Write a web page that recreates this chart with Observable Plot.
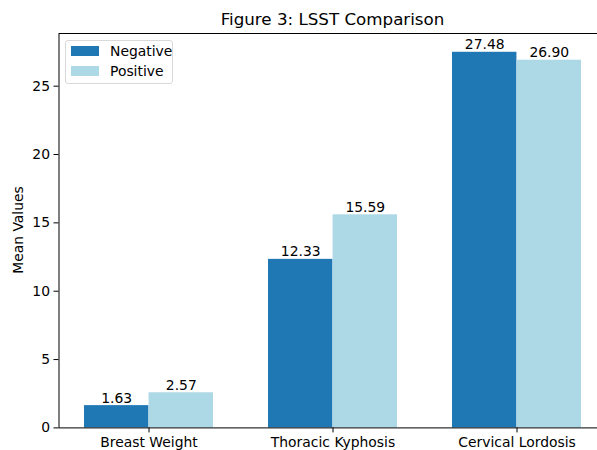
<!DOCTYPE html>
<html>
<head>
<meta charset="utf-8">
<script src="https://cdn.jsdelivr.net/npm/d3@7"></script>
<script src="https://cdn.jsdelivr.net/npm/@observablehq/plot@0.6"></script>
<style>
  html, body { margin: 0; padding: 0; background: #fff; overflow: hidden; }
  #wrap { position: relative; width: 597px; height: 450px; overflow: hidden; font-family: "DejaVu Sans", sans-serif; color: #000; }
  #title { position: absolute; left: 58.5px; width: 548px; top: 9px; text-align: center; font-size: 16.7px; line-height: 20px; }
  #ylabel { position: absolute; left: 18px; top: 230px; transform: translate(-50%, -50%) rotate(-90deg); font-size: 13.9px; white-space: nowrap; }
  #legend { position: absolute; left: 65px; top: 40px; width: 108px; height: 44px; border: 1px solid #d9d9d9; border-radius: 3px; background: rgba(255,255,255,0.8); box-sizing: border-box; font-size: 13.9px; }
  .item { position: absolute; left: 5px; display: flex; align-items: center; }
  .sw { width: 28px; height: 10px; margin-right: 11px; }
  #chart svg { position: absolute; left: 0; top: 0; max-width: none !important; width: 610px !important; height: 450px !important; }
</style>
</head>
<body>
<div id="wrap">
  <div id="chart"></div>
  <div id="title">Figure 3: LSST Comparison</div>
  <div id="ylabel">Mean Values</div>
  <div id="legend"></div>
</div>
<script>
const categories = ["Breast Weight", "Thoracic Kyphosis", "Cervical Lordosis"];
const groups = ["Negative", "Positive"];
const negative = [1.63, 12.33, 27.48];
const positive = [2.57, 15.59, 26.90];
const colors = ["#1f77b4", "#add8e6"];
const yTicks = [0, 5, 10, 15, 20, 25];

const negData = categories.map((c, i) => ({category: c, group: groups[0], value: negative[i]}));
const posData = categories.map((c, i) => ({category: c, group: groups[1], value: positive[i]}));
const ymax = d3.max([...negative, ...positive]) * 1.05;

// layout (matplotlib-like: bar width 0.35 per group, 5% x margins)
const W = 610, ML = 58.5, MR = 3.5;
const padInner = 0.3, padOuter = 0.135;
const step = (W - ML - MR) / (categories.length - padInner + 2 * padOuter);
const bw = step * (1 - padInner);
const half = bw / 2;

const chart = Plot.plot({
  width: W,
  height: 450,
  marginLeft: ML,
  marginRight: MR,
  marginTop: 33,
  marginBottom: 22.6,
  style: {fontFamily: "DejaVu Sans, sans-serif", fontSize: "13.9px", color: "#000", background: "transparent", maxWidth: "none"},
  x: {domain: categories, paddingInner: padInner, paddingOuter: padOuter, align: 0.5, axis: null},
  y: {domain: [0, ymax], axis: null},
  color: {domain: groups, range: colors},
  marks: [
    Plot.barY(negData, {x: "category", y: "value", fill: "group", insetLeft: 0, insetRight: half}),
    Plot.barY(posData, {x: "category", y: "value", fill: "group", insetLeft: half, insetRight: 0}),
    Plot.text(negData, {x: "category", y: "value", text: d => d.value.toFixed(2), lineAnchor: "bottom", dy: -3, dx: -half / 2, fill: "#000", fontSize: 13.9}),
    Plot.text(posData, {x: "category", y: "value", text: d => d.value.toFixed(2), lineAnchor: "bottom", dy: -3, dx: half / 2, fill: "#000", fontSize: 13.9}),
    Plot.frame({stroke: "#000", strokeWidth: 1}),
    Plot.axisY({ticks: yTicks, tickSize: 5, tickPadding: 4, label: null, fontSize: 13.9, stroke: "#000"}),
    Plot.axisX({tickSize: 5, tickPadding: 4, label: null, fontSize: 13.9, stroke: "#000"})
  ]
});
document.getElementById("chart").appendChild(chart);

const legend = document.getElementById("legend");
groups.forEach((g, i) => {
  const it = document.createElement("div");
  it.className = "item";
  it.style.top = (i === 0 ? 2 : 22) + "px";
  const sw = document.createElement("div");
  sw.className = "sw";
  sw.style.background = colors[i];
  const t = document.createElement("span");
  t.textContent = g;
  it.appendChild(sw); it.appendChild(t);
  legend.appendChild(it);
});
</script>
</body>
</html>
